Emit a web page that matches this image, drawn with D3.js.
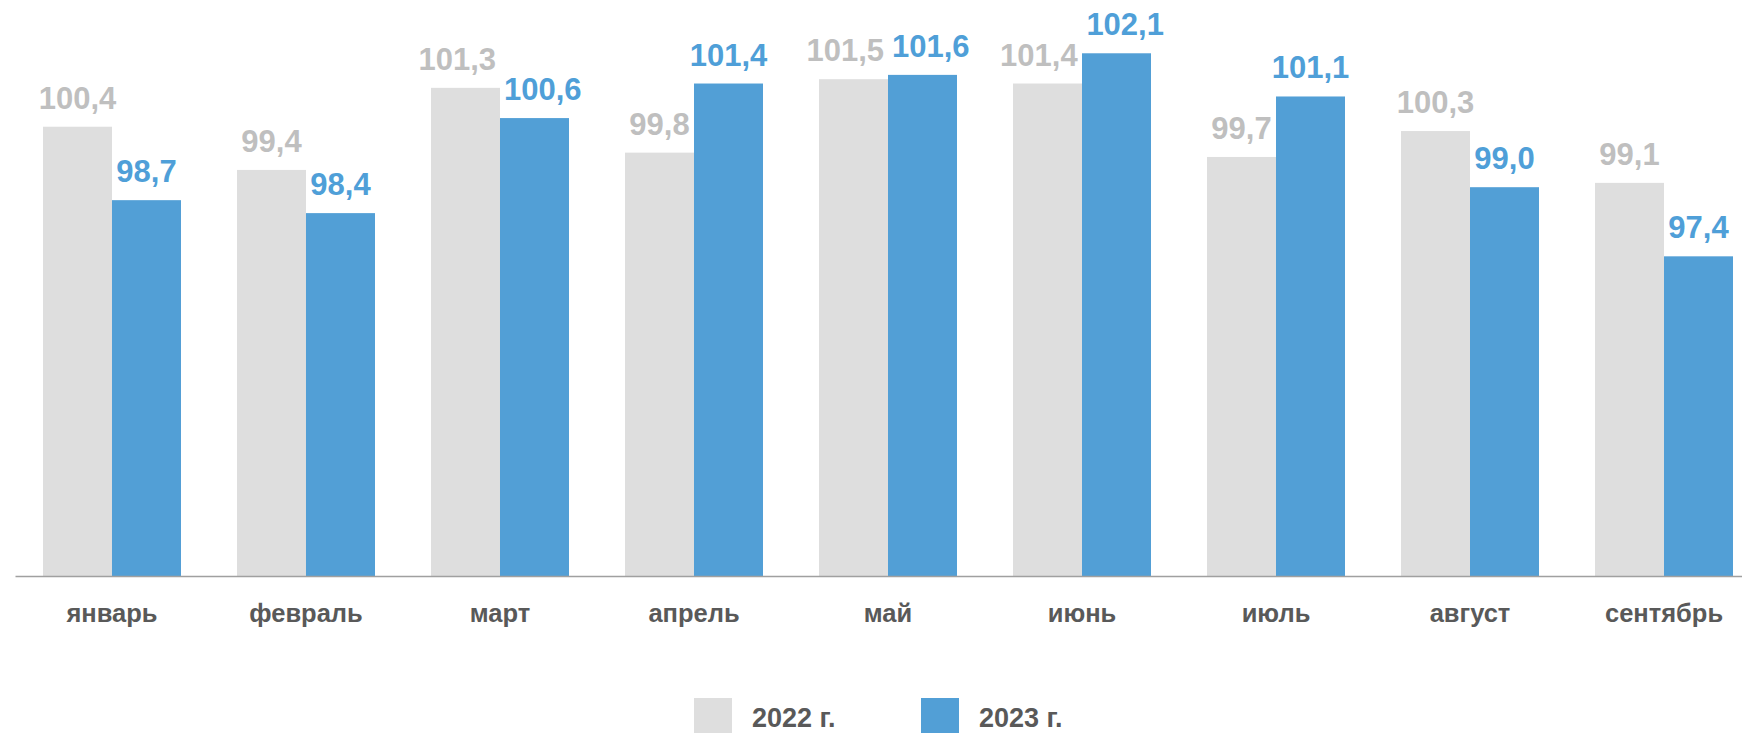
<!DOCTYPE html>
<html>
<head>
<meta charset="utf-8">
<script src="https://cdn.jsdelivr.net/npm/d3@7"></script>
<style>
  html, body { margin: 0; padding: 0; background: #ffffff; }
  svg { display: block; font-family: "Liberation Sans", Arial, sans-serif; }
</style>
</head>
<body>
<div id="chart"></div>
<script>
// months on the x axis
const months = ['январь', 'февраль', 'март', 'апрель', 'май', 'июнь', 'июль', 'август', 'сентябрь'];
const seriesNames = ['2022 г.', '2023 г.'];
const values2022 = [100.4, 99.4, 101.3, 99.8, 101.5, 101.4, 99.7, 100.3, 99.1];
const values2023 = [98.7, 98.4, 100.6, 101.4, 101.6, 102.1, 101.1, 99.0, 97.4];

const W = 1742, H = 733;
const barColors = ['#dedede', '#529fd6'];
const labelColors = ['#bfbfbf', '#4f9fd8'];

const rows = months.map((m, i) => ({ month: m, vals: [values2022[i], values2023[i]] }));

const svg = d3.select('#chart').append('svg')
    .attr('width', W)
    .attr('height', H);

// plot runs a bit past the right edge, like the original crop
const x = d3.scaleBand()
    .domain(months)
    .range([15, 1761])
    .paddingInner(0.2887)
    .paddingOuter(0.1443);

const xs = d3.scaleBand()
    .domain([0, 1])
    .range([0, x.bandwidth()]);

const y = d3.scaleLinear()
    .domain([90, 100])
    .range([576, 144]);

const fmt = v => d3.format('.1f')(v).replace('.', ',');

// bars
const groups = svg.append('g')
    .selectAll('g')
    .data(rows)
    .join('g')
    .attr('transform', d => `translate(${x(d.month)},0)`);

groups.selectAll('rect')
    .data(d => d.vals.map((v, k) => ({ v, k })))
    .join('rect')
    .attr('x', d => xs(d.k))
    .attr('y', d => y(d.v))
    .attr('width', xs.bandwidth())
    .attr('height', d => y(90) - y(d.v))
    .attr('fill', d => barColors[d.k]);

// value labels
groups.selectAll('text.val')
    .data(d => d.vals.map((v, k) => ({ v, k })))
    .join('text')
    .attr('class', 'val')
    .attr('x', d => xs(d.k) + xs.bandwidth() / 2)
    .attr('y', d => y(d.v) - 18)
    .attr('text-anchor', 'middle')
    .attr('fill', d => labelColors[d.k])
    .style('font-size', '31px')
    .style('font-weight', 'bold')
    .text(d => fmt(d.v));

// nudge the two labels of a month apart when they collide
groups.each(function() {
    const labels = d3.select(this).selectAll('text.val').nodes();
    const a = labels[0].getBBox(), b = labels[1].getBBox();
    const ovX = (a.x + a.width) - b.x;
    const ovY = Math.min(a.y + a.height, b.y + b.height) - Math.max(a.y, b.y);
    if (ovX > -4 && ovY > 0) {
        const shift = ovX / 2 + 4;
        d3.select(labels[0]).attr('x', +labels[0].getAttribute('x') - shift);
        d3.select(labels[1]).attr('x', +labels[1].getAttribute('x') + shift);
    }
});

// x axis
const xAxis = svg.append('g')
    .attr('transform', `translate(0,${y(90)})`)
    .call(d3.axisBottom(x).tickSize(0).tickSizeOuter(0));

xAxis.select('.domain')
    .attr('stroke', '#a0a0a0')
    .attr('stroke-width', 1.5);

xAxis.selectAll('.tick text')
    .attr('y', 46)
    .attr('dy', 0)
    .attr('fill', '#595959')
    .style('font-size', '25.5px')
    .style('font-weight', 'bold')
    .style('font-family', '"Liberation Sans", Arial, sans-serif');

// legend
const legendX = [694, 921];
const legend = svg.append('g')
    .selectAll('g')
    .data(seriesNames)
    .join('g')
    .attr('transform', (d, i) => `translate(${legendX[i]},698)`);

legend.append('rect')
    .attr('width', 38)
    .attr('height', 38)
    .attr('fill', (d, i) => barColors[i]);

legend.append('text')
    .attr('x', 58)
    .attr('y', 29)
    .attr('fill', '#595959')
    .style('font-size', '27px')
    .style('font-weight', 'bold')
    .text(d => d);
</script>
</body>
</html>
